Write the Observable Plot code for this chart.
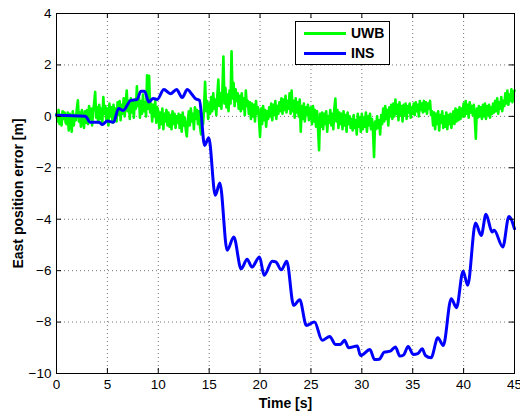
<!DOCTYPE html>
<html>
<head>
<meta charset="utf-8">
<script src="https://cdn.jsdelivr.net/npm/d3@7"></script>
<script src="https://cdn.jsdelivr.net/npm/@observablehq/plot@0.6"></script>
<style>
  html, body { margin: 0; padding: 0; background: #fff; }
  #wrap { position: relative; width: 520px; height: 411px; }
  #legend { position: absolute; left: 295px; top: 21px; width: 93px; height: 42px;
    border: 1px solid #000; background: #fff; font-family: "Liberation Sans", Arial, sans-serif;
    font-weight: bold; font-size: 14px; }
  .row { position: absolute; left: 0; height: 16px; display: flex; align-items: center; }
  .sw { width: 42px; height: 3px; margin-left: 8px; margin-right: 5px; }
</style>
</head>
<body>
<div id="wrap"></div>
<script>
// ---- data ----
const xTicks = [0, 5, 10, 15, 20, 25, 30, 35, 40, 45];
const yTicks = [-10, -8, -6, -4, -2, 0, 2, 4];
const seriesNames = ["UWB", "INS"];
const seriesColors = ["#00ff00", "#0000ff"];

// UWB east error, sampled every 0.1 s from t = 0 (one row per second)
const uwbStep = 0.1;
const uwbValues = [
  0.1,-0.2,0.25,-0.3,0.05,-0.35,0.2,-0.1,0.15,-0.25,
  -0.3,0.15,-0.55,0.1,-0.2,-0.6,0.2,-0.35,0.05,-0.15,
  0.3,0.62,-0.2,0.15,-0.4,0.25,-0.1,-0.45,0.2,-0.25,
  0.25,-0.3,0.4,-0.1,0.3,-0.35,0.2,0.5,0.95,-0.05,
  0.35,-0.25,0.45,-0.1,0.3,-0.3,0.75,0.1,0.4,-0.2,
  0.3,-0.35,0.5,0.0,0.35,-0.25,0.45,-0.05,0.3,-0.2,
  0.55,0.05,0.6,-0.15,0.45,0.1,0.7,0.0,0.5,1.0,
  0.2,0.6,-0.1,0.7,0.15,0.55,-0.05,0.65,0.3,1.17,
  0.4,0.75,-0.05,0.6,0.1,0.85,0.2,0.55,0.0,1.6,
  0.3,1.58,0.15,0.5,-0.2,0.45,0.0,0.6,-0.25,0.35,
  0.2,-0.45,0.15,-0.3,0.3,-0.5,0.1,-0.2,0.25,-0.35,
  0.15,-0.4,0.05,-0.5,0.2,-0.3,0.1,-0.45,0.0,-0.25,
  0.1,-0.45,0.05,-0.6,0.15,-0.35,-0.05,-0.5,-0.78,-0.2,
  0.2,-0.35,0.3,-0.2,0.1,-0.5,0.35,-0.1,0.25,-0.3,
  0.2,-0.4,-0.7,0.1,-0.3,0.35,1.34,0.2,0.6,-0.1,
  0.5,0.1,0.75,0.2,0.9,0.3,0.65,0.05,0.8,1.43,
  0.4,0.9,0.3,1.0,2.33,0.5,1.1,0.35,0.85,0.2,
  1.0,0.5,2.53,0.7,1.3,0.4,1.05,0.6,0.9,0.3,
  0.8,0.2,0.9,0.3,0.7,0.05,1.0,0.4,0.6,0.1,
  0.55,-0.1,0.5,0.0,0.45,-0.2,0.6,0.1,0.35,-0.15,
  -0.8,0.3,-0.3,0.4,-0.15,0.25,-0.4,0.2,-0.1,0.35,
  0.0,0.5,-0.15,0.45,0.05,0.6,-0.1,0.4,0.1,0.55,
  0.2,0.7,0.1,0.65,0.25,0.8,0.15,0.6,0.3,0.9,
  0.1,1.0,0.2,0.6,-0.05,0.7,0.15,0.55,0.0,0.65,
  -0.6,0.4,-0.1,0.5,-0.2,0.35,0.05,0.45,-0.15,0.3,
  0.35,-0.3,0.4,-0.2,0.25,-0.4,0.2,-0.5,-1.32,0.1,
  -0.4,0.15,-0.5,0.1,-0.3,0.2,-0.6,0.0,-0.25,0.25,
  -0.35,0.1,-0.5,0.3,0.69,-0.2,0.25,-0.45,0.15,-0.3,
  0.1,-0.5,0.2,-0.35,0.05,-0.6,0.15,-0.3,0.0,-0.45,
  -0.1,-0.55,0.05,-0.45,-0.15,-0.7,0.1,-0.4,-0.05,-0.6,
  0.1,-0.5,-0.05,-0.4,0.15,-0.6,0.0,-0.35,0.1,-0.5,
  -0.1,-0.6,-1.58,-0.2,-0.5,0.0,-0.45,-0.15,-0.7,0.05,
  -0.3,0.3,-0.2,0.4,-0.1,0.25,-0.35,0.35,0.0,0.45,
  -0.1,0.5,0.0,0.65,0.1,0.45,-0.15,0.55,0.05,0.4,
  -0.2,0.45,0.05,0.5,-0.1,0.4,0.15,0.5,-0.05,0.35,
  0.1,0.5,0.05,0.55,0.2,0.45,0.0,0.6,0.25,0.5,
  0.15,0.6,0.2,0.55,0.1,0.5,0.3,0.6,0.05,0.2,
  -0.35,0.15,-0.5,0.1,-0.3,0.2,-0.55,0.05,-0.25,0.2,
  -0.45,0.0,-0.4,0.15,-0.5,0.05,-0.3,0.1,-0.45,-0.05,
  0.2,-0.3,0.3,-0.2,0.25,-0.15,0.35,-0.1,0.3,0.0,
  0.5,0.0,0.6,0.1,0.45,-0.05,0.55,0.15,0.4,0.05,
  0.45,-0.1,-0.87,0.3,-0.05,0.4,0.0,0.35,-0.1,0.45,
  0.0,0.5,-0.1,0.4,0.05,0.45,-0.05,0.35,0.1,0.5,
  0.15,0.6,0.2,0.7,0.1,0.55,0.3,0.75,0.2,0.6,
  0.4,0.9,0.5,1.0,0.45,0.85,0.6,1.05,0.55,0.95,
  1.0
];

// INS east error (time [s], error [m]) read at the curve's turning points
const insTime = [0,2.85,3.3,4.2,4.5,5.0,5.6,6.1,6.55,7.3,7.9,8.3,8.65,9.07,9.5,9.9,10.55,11.2,11.8,12.35,12.85,13.3,13.65,14.05,14.55,14.96,15.6,16.05,16.77,17.42,18.14,18.73,19.2,19.95,20.4,21.2,21.55,22.1,22.62,23.3,23.9,24.55,25.35,26.1,26.85,27.4,27.9,28.3,28.7,29.55,29.87,30.8,31.25,31.7,32.2,32.8,33.3,33.73,34.1,34.55,35.05,35.5,35.93,36.25,36.8,37.47,38.0,38.78,39.3,39.95,40.4,41.17,41.73,42.2,42.8,43.0,43.85,44.45,45];
const insValues = [0.04,0.0,-0.23,-0.23,-0.32,-0.18,-0.23,0.31,0.23,0.62,0.65,0.98,0.98,0.56,0.69,0.66,1.04,0.88,1.04,0.73,1.04,0.86,0.69,0.62,-1.13,-0.83,-3.07,-2.59,-5.21,-4.69,-5.93,-5.56,-5.86,-5.47,-6.18,-5.63,-5.66,-5.97,-5.63,-7.35,-7.13,-8.13,-8.0,-8.71,-8.56,-8.87,-8.87,-8.71,-9.0,-8.93,-9.3,-9.07,-9.46,-9.45,-9.17,-9.13,-8.97,-9.32,-9.28,-8.95,-9.26,-9.23,-9.04,-9.3,-9.39,-8.61,-8.91,-7.09,-7.44,-6.02,-6.57,-4.15,-4.63,-3.81,-4.5,-4.43,-5.08,-3.89,-4.37];

// ---- build tables ----
const uwb = uwbValues.map((v, i) => ({t: +(i * uwbStep).toFixed(2), v}));
const ins = insTime.map((t, i) => ({t, v: insValues[i]}));

const W = 520, H = 411, mL = 56, mT = 13, mR = 6, mB = 38;
const fw = W - mL - mR, fh = H - mT - mB, tl = 5;
const xIn = xTicks.slice(1, -1), yIn = yTicks.slice(1, -1);
const font = '"Liberation Sans", Arial, Helvetica, sans-serif';

const chart = Plot.plot({
  width: W, height: H,
  marginLeft: mL, marginTop: mT, marginRight: mR, marginBottom: mB,
  style: {fontFamily: font, fontSize: "13.5px", color: "#000", background: "#fff", overflow: "visible"},
  x: {domain: [0, 45], ticks: xTicks, tickSize: 0, tickPadding: 6, label: null},
  y: {domain: [-10, 4], ticks: yTicks, tickSize: 0, tickPadding: 5, label: null},
  marks: [
    // dotted grid
    Plot.ruleX(xIn, {stroke: "#000", strokeOpacity: 0.55, strokeDasharray: "1,3"}),
    Plot.ruleY(yIn, {stroke: "#000", strokeOpacity: 0.55, strokeDasharray: "1,3"}),
    // data
    Plot.line(uwb, {x: "t", y: "v", stroke: seriesColors[0], strokeWidth: 2.6, strokeLinejoin: "round"}),
    Plot.line(ins, {x: "t", y: "v", stroke: seriesColors[1], strokeWidth: 3, curve: "monotone-x", strokeLinejoin: "round"}),
    // inward ticks (MATLAB style) on all four sides
    Plot.ruleX(xIn, {stroke: "#000", insetTop: fh - tl}),
    Plot.ruleX(xIn, {stroke: "#000", insetBottom: fh - tl}),
    Plot.ruleY(yIn, {stroke: "#000", insetRight: fw - tl}),
    Plot.ruleY(yIn, {stroke: "#000", insetLeft: fw - tl}),
    Plot.frame({stroke: "#000", strokeWidth: 1}),
    // axis titles
    Plot.text(["Time [s]"], {frameAnchor: "bottom", dy: 30, textAnchor: "middle", lineAnchor: "middle", fontWeight: "bold", fontSize: 14, fill: "#000"}),
    Plot.text(["East position error [m]"], {frameAnchor: "left", dx: -38, rotate: -90, textAnchor: "middle", lineAnchor: "middle", fontWeight: "bold", fontSize: 14, fill: "#000"})
  ]
});

const wrap = document.getElementById("wrap");
wrap.appendChild(chart);

// legend (inside the axes, upper middle)
const legend = document.createElement("div");
legend.id = "legend";
seriesNames.forEach((name, i) => {
  const row = document.createElement("div");
  row.className = "row";
  row.style.top = (3 + i * 20) + "px";
  const sw = document.createElement("div");
  sw.className = "sw";
  sw.style.background = seriesColors[i];
  const lab = document.createElement("span");
  lab.textContent = name;
  row.appendChild(sw);
  row.appendChild(lab);
  legend.appendChild(row);
});
wrap.appendChild(legend);
</script>
</body>
</html>
